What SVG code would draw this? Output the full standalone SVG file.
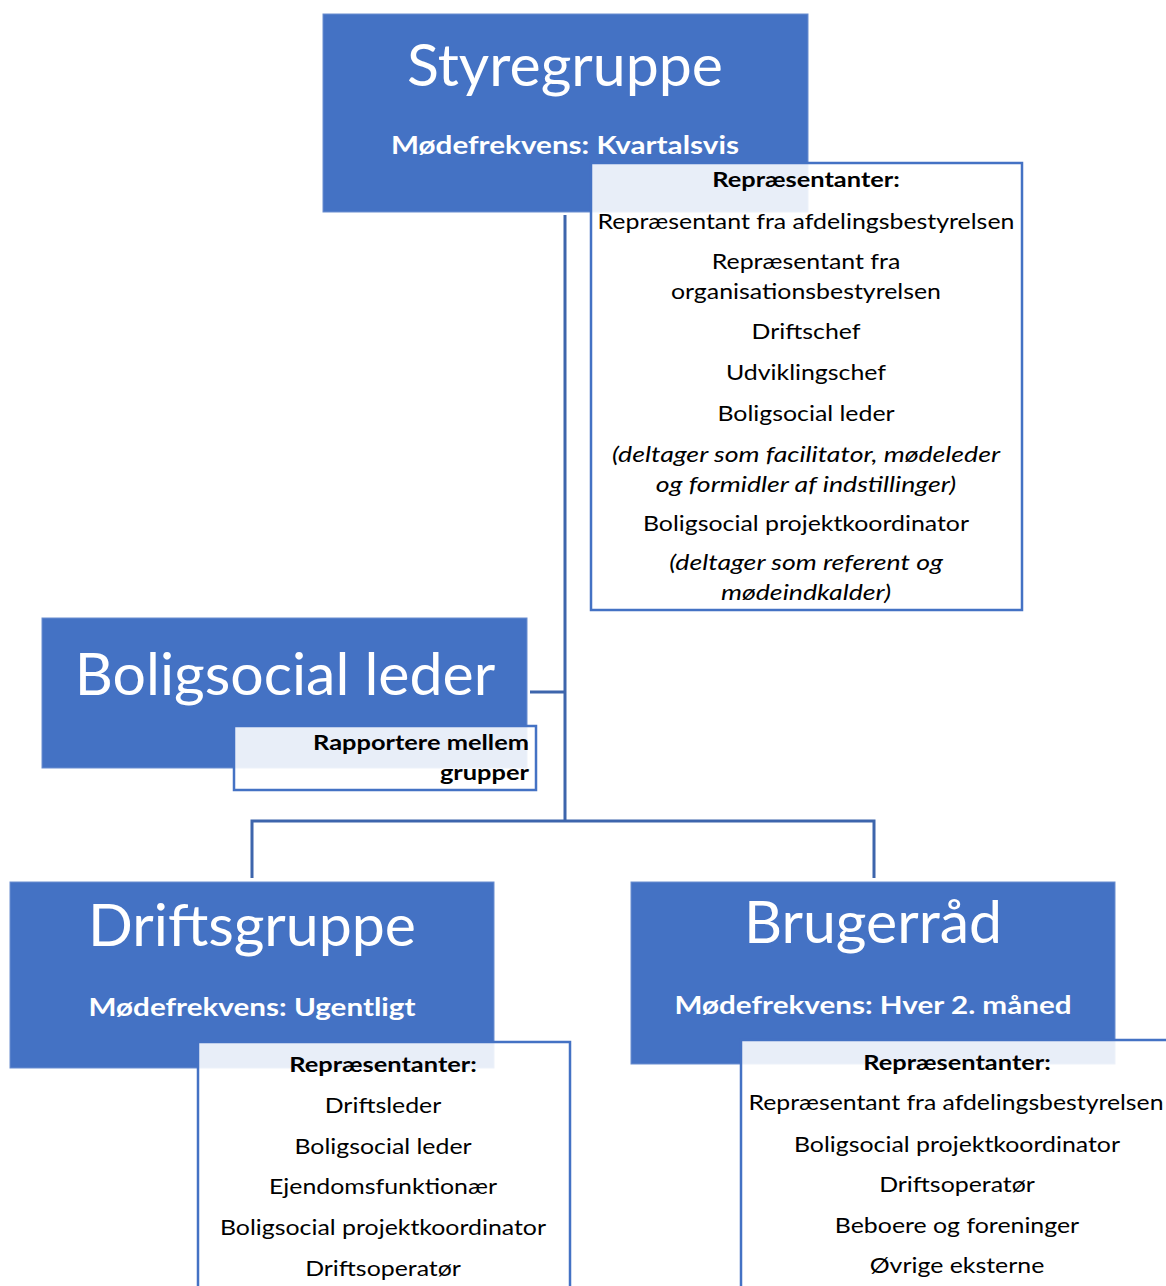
<svg xmlns="http://www.w3.org/2000/svg" width="1166" height="1286" viewBox="0 0 1166 1286">
<style>
  .box { fill: #4472C4; stroke: #6A8ED0; stroke-width: 1; }
  .rep { fill: #FFFFFF; fill-opacity: 0.88; stroke: #4472C4; stroke-width: 2.5; }
  .title { font-family: Lato, "Open Sans", sans-serif; font-size: 59px; fill: #FFFFFF; text-anchor: middle; }
  .sub { font-family: Lato, "Open Sans", sans-serif; font-size: 24px; font-weight: bold; fill: #FFFFFF; text-anchor: middle; }
  .hd { font-family: Lato, "Open Sans", sans-serif; font-size: 21px; font-weight: bold; fill: #000000; text-anchor: middle; }
  .it { font-family: Lato, "Open Sans", sans-serif; font-size: 21px; fill: #000000; text-anchor: middle; }
  .itc { font-family: Lato, "Open Sans", sans-serif; font-size: 21px; font-style: italic; fill: #000000; text-anchor: middle; }
  .conn { fill: none; stroke: #3D65AC; stroke-width: 3; }
</style>
<rect width="1166" height="1286" fill="#FFFFFF"/>
<g id="connectors">
  <path class="conn" d="M565 215 V821"/>
  <path class="conn" d="M530 692 H565"/>
  <path class="conn" d="M252 878 V821 H874 V878"/>
</g>
<g id="styregruppe">
  <rect class="box" x="323" y="14" width="485" height="198"/>
  <text class="title" x="565" y="86">Styregruppe</text>
  <text class="sub" transform="translate(565 154) scale(1.235 1)">Mødefrekvens: Kvartalsvis</text>
  <rect class="rep" x="591" y="163" width="431" height="447"/>
  <text class="hd" transform="translate(806 187) scale(1.21 1)">Repræsentanter:</text>
  <text class="it" transform="translate(806 229) scale(1.185 1)">Repræsentant fra afdelingsbestyrelsen</text>
  <text class="it" transform="translate(806 269) scale(1.185 1)">Repræsentant fra</text>
  <text class="it" transform="translate(806 299) scale(1.185 1)">organisationsbestyrelsen</text>
  <text class="it" transform="translate(806 339) scale(1.185 1)">Driftschef</text>
  <text class="it" transform="translate(806 380) scale(1.185 1)">Udviklingschef</text>
  <text class="it" transform="translate(806 421) scale(1.185 1)">Boligsocial leder</text>
  <text class="itc" transform="translate(806 462) scale(1.27 1)">(deltager som facilitator, mødeleder</text>
  <text class="itc" transform="translate(806 492) scale(1.27 1)">og formidler af indstillinger)</text>
  <text class="it" transform="translate(806 531) scale(1.185 1)">Boligsocial projektkoordinator</text>
  <text class="itc" transform="translate(806 570) scale(1.27 1)">(deltager som referent og</text>
  <text class="itc" transform="translate(806 600) scale(1.27 1)">mødeindkalder)</text>
</g>
<g id="boligsocial-leder">
  <rect class="box" x="42" y="618" width="485" height="150"/>
  <text class="title" x="285" y="695">Boligsocial leder</text>
  <rect class="rep" x="234" y="726" width="302" height="64"/>
  <text class="hd" transform="translate(529 750) scale(1.21 1)" style="text-anchor:end">Rapportere mellem</text>
  <text class="hd" transform="translate(529 780) scale(1.21 1)" style="text-anchor:end">grupper</text>
</g>
<g id="driftsgruppe">
  <rect class="box" x="10" y="882" width="484" height="186"/>
  <text class="title" x="252" y="946">Driftsgruppe</text>
  <text class="sub" transform="translate(252 1016) scale(1.235 1)">Mødefrekvens: Ugentligt</text>
  <rect class="rep" x="198" y="1042" width="372" height="260"/>
  <text class="hd" transform="translate(383 1072) scale(1.21 1)">Repræsentanter:</text>
  <text class="it" transform="translate(383 1113) scale(1.185 1)">Driftsleder</text>
  <text class="it" transform="translate(383 1154) scale(1.185 1)">Boligsocial leder</text>
  <text class="it" transform="translate(383 1194) scale(1.185 1)">Ejendomsfunktionær</text>
  <text class="it" transform="translate(383 1235) scale(1.185 1)">Boligsocial projektkoordinator</text>
  <text class="it" transform="translate(383 1276) scale(1.185 1)">Driftsoperatør</text>
</g>
<g id="brugerraad">
  <rect class="box" x="631" y="882" width="484" height="182"/>
  <text class="title" x="873" y="943">Brugerråd</text>
  <text class="sub" transform="translate(873 1014) scale(1.235 1)">Mødefrekvens: Hver 2. måned</text>
  <rect class="rep" x="741" y="1040" width="440" height="260"/>
  <text class="hd" transform="translate(957 1070) scale(1.21 1)">Repræsentanter:</text>
  <text class="it" transform="translate(956 1110) scale(1.18 1)">Repræsentant fra afdelingsbestyrelsen</text>
  <text class="it" transform="translate(957 1152) scale(1.185 1)">Boligsocial projektkoordinator</text>
  <text class="it" transform="translate(957 1192) scale(1.185 1)">Driftsoperatør</text>
  <text class="it" transform="translate(957 1233) scale(1.185 1)">Beboere og foreninger</text>
  <text class="it" transform="translate(957 1273) scale(1.185 1)">Øvrige eksterne</text>
</g>
</svg>
